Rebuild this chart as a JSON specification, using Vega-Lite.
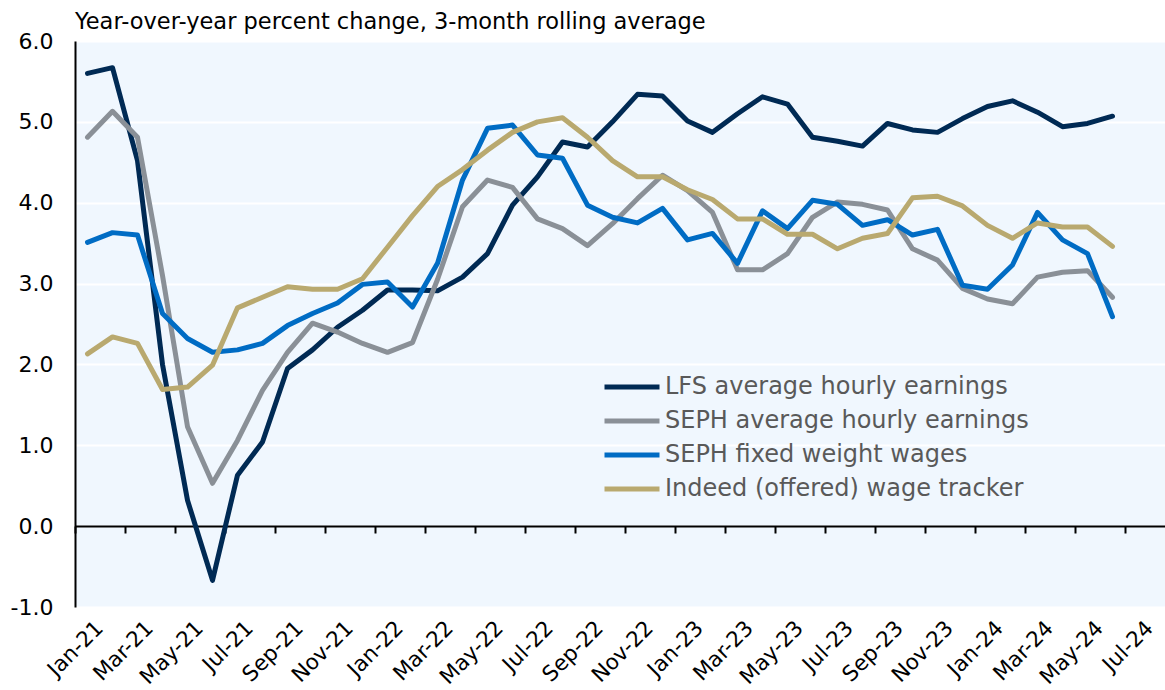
{
  "$schema": "https://vega.github.io/schema/vega-lite/v6.json",
  "width": 1090,
  "height": 566,
  "autosize": {"type": "none"},
  "padding": {"left": 75, "top": 41, "right": 0, "bottom": 83},
  "background": "#FFFFFF",
  "config": {"view": {"fill": "#F0F7FE", "stroke": null}, "font": "DejaVu Sans"},
  "title": {"text": "Year-over-year percent change, 3-month rolling average", "anchor": "start", "frame": "group", "fontSize": 22.5, "fontWeight": "normal", "color": "#000000", "font": "DejaVu Sans", "offset": -3},
  "data": {"values": [
    {"m": "Jan-21", "lfs": 5.60, "ahe": 4.81, "fw": 3.51, "ind": 2.13},
    {"m": "Feb-21", "lfs": 5.67, "ahe": 5.13, "fw": 3.63, "ind": 2.34},
    {"m": "Mar-21", "lfs": 4.52, "ahe": 4.81, "fw": 3.60, "ind": 2.26},
    {"m": "Apr-21", "lfs": 2.00, "ahe": 3.10, "fw": 2.63, "ind": 1.69},
    {"m": "May-21", "lfs": 0.32, "ahe": 1.23, "fw": 2.32, "ind": 1.72},
    {"m": "Jun-21", "lfs": -0.67, "ahe": 0.53, "fw": 2.15, "ind": 1.99},
    {"m": "Jul-21", "lfs": 0.63, "ahe": 1.06, "fw": 2.18, "ind": 2.70},
    {"m": "Aug-21", "lfs": 1.04, "ahe": 1.68, "fw": 2.26, "ind": 2.83},
    {"m": "Sep-21", "lfs": 1.95, "ahe": 2.15, "fw": 2.48, "ind": 2.96},
    {"m": "Oct-21", "lfs": 2.18, "ahe": 2.51, "fw": 2.63, "ind": 2.93},
    {"m": "Nov-21", "lfs": 2.46, "ahe": 2.40, "fw": 2.76, "ind": 2.93},
    {"m": "Dec-21", "lfs": 2.67, "ahe": 2.26, "fw": 2.99, "ind": 3.06},
    {"m": "Jan-22", "lfs": 2.92, "ahe": 2.15, "fw": 3.02, "ind": 3.45},
    {"m": "Feb-22", "lfs": 2.92, "ahe": 2.27, "fw": 2.71, "ind": 3.84},
    {"m": "Mar-22", "lfs": 2.91, "ahe": 3.05, "fw": 3.25, "ind": 4.20},
    {"m": "Apr-22", "lfs": 3.08, "ahe": 3.95, "fw": 4.28, "ind": 4.41},
    {"m": "May-22", "lfs": 3.37, "ahe": 4.28, "fw": 4.92, "ind": 4.65},
    {"m": "Jun-22", "lfs": 3.97, "ahe": 4.19, "fw": 4.96, "ind": 4.87},
    {"m": "Jul-22", "lfs": 4.32, "ahe": 3.80, "fw": 4.59, "ind": 5.00},
    {"m": "Aug-22", "lfs": 4.75, "ahe": 3.68, "fw": 4.55, "ind": 5.05},
    {"m": "Sep-22", "lfs": 4.69, "ahe": 3.47, "fw": 3.97, "ind": 4.81},
    {"m": "Oct-22", "lfs": 5.00, "ahe": 3.74, "fw": 3.82, "ind": 4.52},
    {"m": "Nov-22", "lfs": 5.34, "ahe": 4.05, "fw": 3.75, "ind": 4.32},
    {"m": "Dec-22", "lfs": 5.32, "ahe": 4.34, "fw": 3.93, "ind": 4.32},
    {"m": "Jan-23", "lfs": 5.01, "ahe": 4.15, "fw": 3.54, "ind": 4.16},
    {"m": "Feb-23", "lfs": 4.87, "ahe": 3.88, "fw": 3.62, "ind": 4.04},
    {"m": "Mar-23", "lfs": 5.10, "ahe": 3.17, "fw": 3.25, "ind": 3.80},
    {"m": "Apr-23", "lfs": 5.31, "ahe": 3.17, "fw": 3.90, "ind": 3.80},
    {"m": "May-23", "lfs": 5.22, "ahe": 3.37, "fw": 3.68, "ind": 3.61},
    {"m": "Jun-23", "lfs": 4.81, "ahe": 3.82, "fw": 4.03, "ind": 3.61},
    {"m": "Jul-23", "lfs": 4.76, "ahe": 4.01, "fw": 3.98, "ind": 3.43},
    {"m": "Aug-23", "lfs": 4.70, "ahe": 3.98, "fw": 3.72, "ind": 3.56},
    {"m": "Sep-23", "lfs": 4.98, "ahe": 3.91, "fw": 3.79, "ind": 3.62},
    {"m": "Oct-23", "lfs": 4.90, "ahe": 3.43, "fw": 3.60, "ind": 4.06},
    {"m": "Nov-23", "lfs": 4.87, "ahe": 3.29, "fw": 3.67, "ind": 4.08},
    {"m": "Dec-23", "lfs": 5.04, "ahe": 2.94, "fw": 2.98, "ind": 3.96},
    {"m": "Jan-24", "lfs": 5.19, "ahe": 2.81, "fw": 2.93, "ind": 3.72},
    {"m": "Feb-24", "lfs": 5.26, "ahe": 2.75, "fw": 3.23, "ind": 3.56},
    {"m": "Mar-24", "lfs": 5.12, "ahe": 3.08, "fw": 3.88, "ind": 3.75},
    {"m": "Apr-24", "lfs": 4.94, "ahe": 3.14, "fw": 3.54, "ind": 3.70},
    {"m": "May-24", "lfs": 4.98, "ahe": 3.16, "fw": 3.37, "ind": 3.70},
    {"m": "Jun-24", "lfs": 5.07, "ahe": 2.83, "fw": 2.59, "ind": 3.46}
  ]},
  "transform": [{"fold": ["lfs", "ahe", "fw", "ind"], "as": ["s", "v"]}],
  "mark": {"type": "line", "strokeWidth": 5, "strokeCap": "round", "strokeJoin": "round"},
  "encoding": {
    "x": {
      "field": "m", "type": "ordinal", "sort": null,
      "scale": {"type": "point", "padding": 0.8, "align": 0.3125, "domain": ["Jan-21","Feb-21","Mar-21","Apr-21","May-21","Jun-21","Jul-21","Aug-21","Sep-21","Oct-21","Nov-21","Dec-21","Jan-22","Feb-22","Mar-22","Apr-22","May-22","Jun-22","Jul-22","Aug-22","Sep-22","Oct-22","Nov-22","Dec-22","Jan-23","Feb-23","Mar-23","Apr-23","May-23","Jun-23","Jul-23","Aug-23","Sep-23","Oct-23","Nov-23","Dec-23","Jan-24","Feb-24","Mar-24","Apr-24","May-24","Jun-24","Jul-24"]},
      "axis": {
        "title": null,
        "values": ["Jan-21","Mar-21","May-21","Jul-21","Sep-21","Nov-21","Jan-22","Mar-22","May-22","Jul-22","Sep-22","Nov-22","Jan-23","Mar-23","May-23","Jul-23","Sep-23","Nov-23","Jan-24","Mar-24","May-24","Jul-24"],
        "labelAngle": -45, "offset": -81, "grid": false,
        "domainColor": "#000000", "domainWidth": 2,
        "tickColor": "#000000", "tickWidth": 2, "tickSize": 7,
        "tickOffset": -12.5, "labelOffset": 17, "labelPadding": 84,
        "labelFontSize": 21.5, "labelColor": "#000000", "labelFont": "DejaVu Sans",
        "labelOverlap": false, "labelBound": false, "labelFlush": false
      }
    },
    "y": {
      "field": "v", "type": "quantitative",
      "scale": {"domain": [-1, 6], "nice": false, "zero": false},
      "axis": {
        "title": null, "values": [-1, 0, 1, 2, 3, 4, 5, 6],
        "labelExpr": "(datum.value < 0 ? '-' : '') + format(abs(datum.value), '.1f')",
        "grid": true, "gridColor": "#FFFFFF", "gridWidth": 2,
        "ticks": false, "domainColor": "#000000", "domainWidth": 2,
        "labelPadding": 22, "labelFontSize": 22, "labelColor": "#000000", "labelFont": "DejaVu Sans"
      }
    },
    "color": {
      "field": "s", "type": "nominal",
      "scale": {"domain": ["lfs", "ahe", "fw", "ind"], "range": ["#002A54", "#8A9097", "#006CC4", "#B9A96F"]},
      "legend": {
        "title": null, "orient": "none", "legendX": 545, "legendY": 334,
        "symbolType": "M-5,0H5", "symbolSize": 121, "symbolStrokeWidth": 5,
        "labelFontSize": 24, "labelColor": "#595959", "labelFont": "DejaVu Sans", "labelLimit": 600,
        "labelOffset": 21, "rowPadding": 10, "padding": 0,
        "labelExpr": "datum.value === 'lfs' ? 'LFS average hourly earnings' : datum.value === 'ahe' ? 'SEPH average hourly earnings' : datum.value === 'fw' ? 'SEPH fixed weight wages' : 'Indeed (offered) wage tracker'"
      }
    }
  }
}
